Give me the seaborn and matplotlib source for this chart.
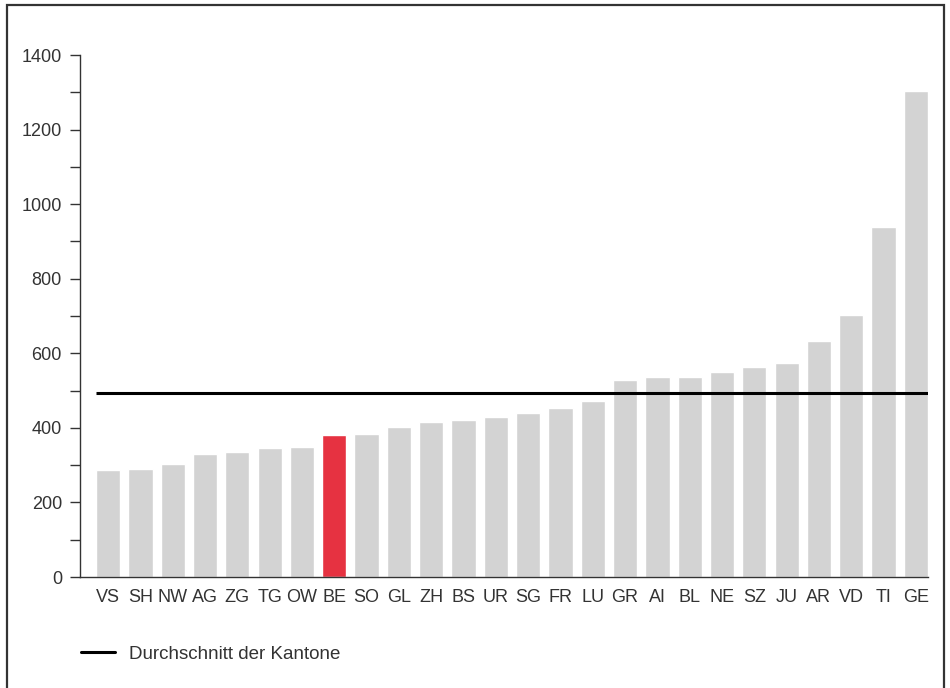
import numpy as np
import pandas as pd
import matplotlib
matplotlib.use("Agg")
import matplotlib.pyplot as plt
import seaborn as sns
from matplotlib.patches import Rectangle
from matplotlib.ticker import MultipleLocator
from matplotlib.lines import Line2D

# Data
kantone = ["VS", "SH", "NW", "AG", "ZG", "TG", "OW", "BE", "SO", "GL", "ZH", "BS", "UR",
           "SG", "FR", "LU", "GR", "AI", "BL", "NE", "SZ", "JU", "AR", "VD", "TI", "GE"]
werte = [286, 289, 304, 331, 336, 347, 350, 382, 383, 401, 417, 422, 430,
         441, 452, 471, 529, 537, 537, 551, 564, 575, 634, 704, 938, 1303]
durchschnitt = 493
highlight = "BE"

df = pd.DataFrame({"Kanton": kantone, "Wert": werte})

sns.set_style("white")
plt.rcParams['font.family'] = ['Liberation Sans', 'DejaVu Sans']

grey = "#d3d3d3"
red = "#e63241"
text_col = "#333333"
palette = {k: (red if k == highlight else grey) for k in kantone}

fig = plt.figure(figsize=(9.5, 6.88), dpi=100)
ax = fig.add_axes([80 / 950, 1 - 577 / 688, 848 / 950, 522 / 688])

sns.barplot(data=df, x="Kanton", y="Wert", hue="Kanton", palette=palette,
            width=0.75, legend=False, saturation=1, ax=ax)

ax.hlines(durchschnitt, -0.375, len(kantone) - 1 + 0.375, color="black", linewidth=2.2, zorder=5)

ax.set_xlim(-0.87, len(kantone) - 1 + 0.375)
ax.set_ylim(0, 1400)
ax.yaxis.set_major_locator(MultipleLocator(200))
ax.yaxis.set_minor_locator(MultipleLocator(100))
ax.tick_params(axis="y", which="both", direction="out", length=7, width=1, color=text_col,
               labelsize=13, labelcolor=text_col, left=True, pad=6)
ax.tick_params(axis="x", length=0, labelsize=13, labelcolor=text_col, pad=9)
ax.set_xlabel("")
ax.set_ylabel("")

for s in ["top", "right"]:
    ax.spines[s].set_visible(False)
for s in ["left", "bottom"]:
    ax.spines[s].set_color(text_col)
    ax.spines[s].set_linewidth(1)

# legend below
handle = Line2D([], [], color="black", linewidth=2.2)
fig.legend([handle], ["Durchschnitt der Kantone"], loc="center left",
           bbox_to_anchor=(81 / 950, 1 - 654 / 688), frameon=False, fontsize=13.5,
           borderpad=0, borderaxespad=0, handlelength=1.8, handletextpad=0.75,
           labelcolor=text_col)

# frame around the figure
fig.patches.append(Rectangle((7 / 950, -0.02), 937 / 950, 1.02 - 5 / 688,
                             transform=fig.transFigure, fill=False,
                             edgecolor=text_col, linewidth=1.6))

fig.savefig("out.png", dpi=100)
plt.close(fig)
